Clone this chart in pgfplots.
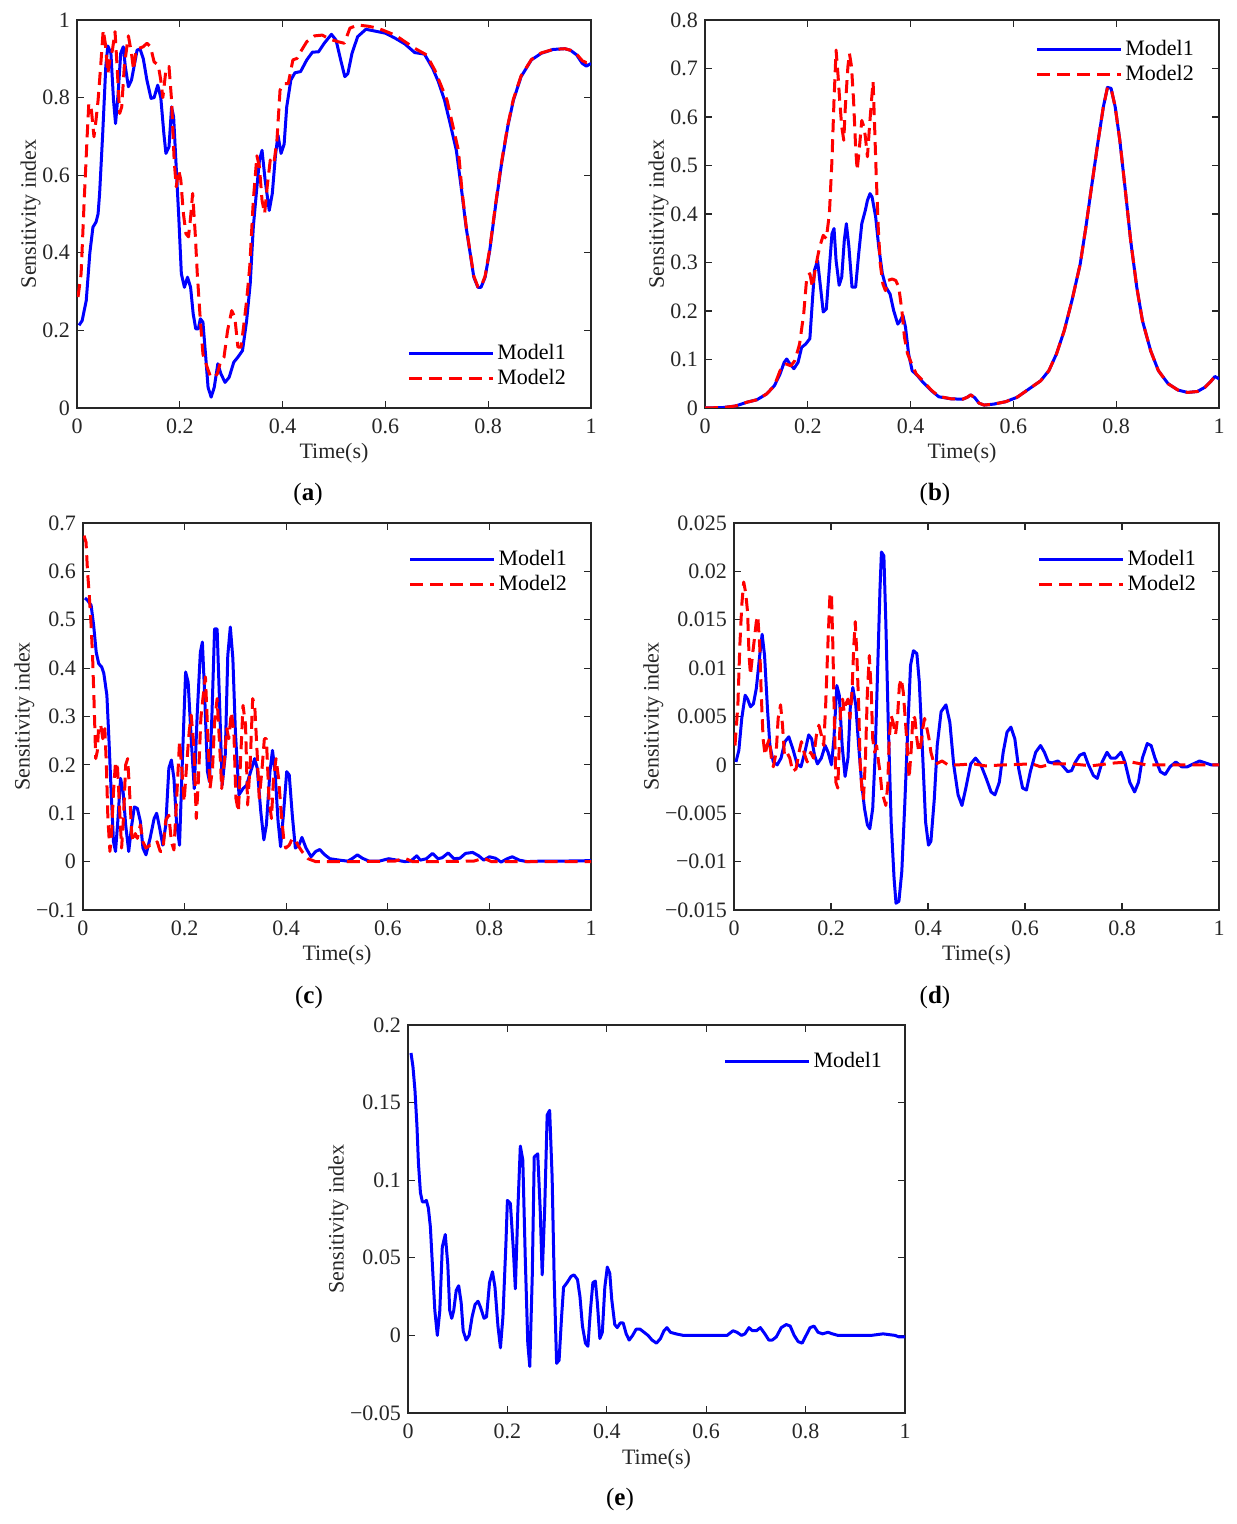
\documentclass[border=0pt]{standalone}
\usepackage{pgfplots}
\pgfplotsset{compat=1.18}
\usepackage{fontspec}
\setmainfont{Liberation Serif}
\definecolor{axgray}{RGB}{38,38,38}
\definecolor{mblue}{RGB}{0,0,255}
\definecolor{mred}{RGB}{255,0,0}
\pgfplotsset{
  sty/.style={
    scale only axis, xmin=0, xmax=1, scaled ticks=false,
    tick align=inside, tick pos=both,
    axis line style={line width=0.7pt, draw=axgray},
    major tick length=3.5pt,
    every tick/.style={axgray, line width=0.6pt},
    tick label style={font=\fontsize{11}{13}\selectfont, text=axgray},
    xticklabel style={yshift=-2pt},
    label style={font=\fontsize{11}{13}\selectfont, text=axgray},
    ylabel style={yshift=-6pt},
    xlabel style={yshift=2pt},
    xlabel={Time(s)}, ylabel={Sensitivity index},
    xtick={0,0.2,0.4,0.6,0.8,1}, xticklabels={0,0.2,0.4,0.6,0.8,1},
    legend cell align=left,
    legend image code/.code={\draw[##1] (0pt,0pt) -- (42pt,0pt);},
    legend style={draw=none, fill=none, anchor=north west,
      font=\fontsize{11}{13}\selectfont, inner sep=0pt, row sep=0pt,
      nodes={inner sep=1.5pt, text height=7.5pt, text depth=2pt}},
  },
  m1/.style={mblue, line width=1.5pt, line join=round},
  m2/.style={mred, line width=1.5pt, line join=round, dash pattern=on 6.5pt off 3.5pt},
}
\begin{document}
\begin{tikzpicture}
\useasboundingbox (0,0) rectangle (618pt,762pt);
% (a)
\begin{axis}[sty, at={(38.5pt,558pt)}, anchor=south west, width=257pt, height=194pt,
  ymin=0, ymax=1, ytick={0,0.2,0.4,0.6,0.8,1}, yticklabels={0,0.2,0.4,0.6,0.8,1},
  legend style={at={(0.642,0.173)}}]
\addplot[m1] coordinates {(0.004,0.213)(0.01,0.225)(0.018,0.277)(0.025,0.40)(0.031,0.466)(0.037,0.479)(0.041,0.50)(0.044,0.553)(0.05,0.707)(0.056,0.88)(0.06,0.933)(0.066,0.914)(0.071,0.794)(0.075,0.733)(0.08,0.81)(0.085,0.914)(0.09,0.931)(0.094,0.88)(0.1,0.828)(0.106,0.845)(0.111,0.88)(0.117,0.923)(0.123,0.924)(0.129,0.90)(0.136,0.845)(0.144,0.798)(0.15,0.80)(0.157,0.832)(0.163,0.80)(0.169,0.707)(0.173,0.656)(0.179,0.673)(0.184,0.776)(0.188,0.75)(0.193,0.621)(0.198,0.492)(0.203,0.346)(0.209,0.311)(0.215,0.337)(0.221,0.311)(0.226,0.243)(0.231,0.204)(0.236,0.204)(0.24,0.23)(0.245,0.221)(0.25,0.139)(0.255,0.053)(0.261,0.028)(0.267,0.053)(0.274,0.114)(0.28,0.088)(0.288,0.066)(0.296,0.079)(0.305,0.118)(0.313,0.131)(0.322,0.148)(0.33,0.225)(0.337,0.32)(0.343,0.466)(0.35,0.57)(0.355,0.639)(0.36,0.664)(0.366,0.587)(0.374,0.509)(0.38,0.553)(0.386,0.65)(0.391,0.703)(0.397,0.656)(0.403,0.68)(0.408,0.776)(0.416,0.845)(0.424,0.864)(0.435,0.867)(0.447,0.897)(0.458,0.917)(0.47,0.918)(0.481,0.94)(0.495,0.963)(0.504,0.948)(0.513,0.897)(0.521,0.854)(0.527,0.862)(0.535,0.914)(0.546,0.957)(0.562,0.976)(0.581,0.971)(0.6,0.966)(0.619,0.953)(0.638,0.938)(0.657,0.916)(0.676,0.912)(0.692,0.875)(0.703,0.841)(0.715,0.793)(0.726,0.733)(0.738,0.664)(0.749,0.553)(0.757,0.466)(0.765,0.398)(0.772,0.337)(0.78,0.311)(0.786,0.311)(0.794,0.337)(0.803,0.406)(0.814,0.518)(0.826,0.63)(0.838,0.725)(0.849,0.793)(0.864,0.854)(0.884,0.897)(0.903,0.914)(0.926,0.924)(0.949,0.926)(0.96,0.922)(0.972,0.91)(0.983,0.888)(0.991,0.881)(1.0,0.888)};
\addlegendentry{Model1}
\addplot[m2] coordinates {(0.002,0.286)(0.008,0.346)(0.014,0.535)(0.02,0.707)(0.023,0.785)(0.028,0.768)(0.033,0.699)(0.037,0.742)(0.041,0.793)(0.046,0.88)(0.051,0.974)(0.055,0.94)(0.06,0.862)(0.064,0.897)(0.069,0.923)(0.074,0.97)(0.078,0.88)(0.083,0.759)(0.087,0.776)(0.092,0.88)(0.097,0.931)(0.1,0.959)(0.106,0.914)(0.11,0.871)(0.115,0.923)(0.121,0.927)(0.129,0.931)(0.136,0.94)(0.143,0.931)(0.15,0.892)(0.158,0.884)(0.163,0.845)(0.167,0.80)(0.173,0.871)(0.179,0.88)(0.184,0.793)(0.189,0.639)(0.193,0.57)(0.198,0.613)(0.202,0.587)(0.207,0.501)(0.212,0.449)(0.217,0.441)(0.221,0.492)(0.225,0.553)(0.23,0.449)(0.234,0.346)(0.24,0.225)(0.245,0.139)(0.251,0.114)(0.259,0.083)(0.267,0.079)(0.273,0.088)(0.279,0.118)(0.286,0.131)(0.293,0.20)(0.301,0.251)(0.307,0.234)(0.313,0.157)(0.319,0.157)(0.324,0.208)(0.33,0.277)(0.336,0.363)(0.343,0.535)(0.35,0.65)(0.355,0.621)(0.36,0.535)(0.365,0.501)(0.37,0.57)(0.376,0.639)(0.383,0.63)(0.389,0.69)(0.395,0.819)(0.402,0.836)(0.411,0.836)(0.42,0.897)(0.428,0.901)(0.435,0.918)(0.447,0.944)(0.462,0.959)(0.477,0.961)(0.493,0.95)(0.508,0.944)(0.52,0.94)(0.531,0.979)(0.546,0.987)(0.566,0.984)(0.585,0.979)(0.619,0.961)(0.657,0.927)(0.68,0.91)(0.696,0.871)(0.72,0.793)(0.742,0.664)(0.749,0.56)(0.757,0.47)(0.765,0.40)(0.772,0.34)(0.78,0.312)(0.786,0.312)(0.794,0.34)(0.803,0.41)(0.814,0.522)(0.826,0.634)(0.838,0.728)(0.849,0.796)(0.864,0.856)(0.884,0.898)(0.903,0.915)(0.926,0.924)(0.949,0.926)(0.96,0.922)(0.972,0.912)(0.983,0.895)(0.991,0.89)(1.0,0.898)};
\addlegendentry{Model2}
\end{axis}
% (b)
\begin{axis}[sty, at={(352.5pt,558pt)}, anchor=south west, width=257pt, height=194pt,
  ymin=0, ymax=0.8, ytick={0,0.1,0.2,0.3,0.4,0.5,0.6,0.7,0.8}, yticklabels={0,0.1,0.2,0.3,0.4,0.5,0.6,0.7,0.8},
  legend style={at={(0.642,0.956)}}]
\addplot[m1] coordinates {(0,0)(0.036,0.001)(0.059,0.004)(0.082,0.012)(0.101,0.017)(0.12,0.029)(0.135,0.046)(0.146,0.07)(0.154,0.094)(0.159,0.101)(0.165,0.091)(0.173,0.081)(0.181,0.094)(0.188,0.125)(0.196,0.132)(0.204,0.143)(0.209,0.222)(0.213,0.284)(0.219,0.304)(0.224,0.256)(0.23,0.198)(0.236,0.204)(0.242,0.29)(0.247,0.359)(0.251,0.37)(0.255,0.304)(0.261,0.253)(0.266,0.27)(0.271,0.346)(0.275,0.38)(0.28,0.332)(0.286,0.249)(0.293,0.249)(0.299,0.318)(0.305,0.38)(0.312,0.408)(0.316,0.428)(0.321,0.442)(0.325,0.435)(0.332,0.394)(0.338,0.332)(0.345,0.277)(0.352,0.249)(0.36,0.235)(0.367,0.201)(0.375,0.173)(0.38,0.18)(0.385,0.191)(0.39,0.167)(0.396,0.112)(0.403,0.077)(0.413,0.067)(0.424,0.053)(0.44,0.036)(0.455,0.023)(0.478,0.019)(0.501,0.018)(0.51,0.022)(0.517,0.027)(0.525,0.021)(0.533,0.01)(0.543,0.006)(0.562,0.008)(0.585,0.013)(0.607,0.022)(0.63,0.039)(0.653,0.056)(0.669,0.077)(0.684,0.112)(0.699,0.16)(0.714,0.222)(0.73,0.297)(0.741,0.373)(0.752,0.456)(0.764,0.545)(0.775,0.621)(0.783,0.661)(0.79,0.659)(0.798,0.621)(0.807,0.552)(0.817,0.456)(0.828,0.346)(0.84,0.249)(0.851,0.18)(0.867,0.118)(0.882,0.077)(0.901,0.05)(0.92,0.037)(0.939,0.032)(0.958,0.034)(0.973,0.043)(0.985,0.056)(0.992,0.065)(1.0,0.06)};
\addlegendentry{Model1}
\addplot[m2] coordinates {(0,0)(0.036,0.001)(0.059,0.004)(0.082,0.012)(0.101,0.017)(0.12,0.029)(0.135,0.046)(0.146,0.077)(0.157,0.091)(0.167,0.087)(0.175,0.098)(0.184,0.132)(0.192,0.194)(0.198,0.27)(0.204,0.277)(0.209,0.249)(0.215,0.29)(0.223,0.332)(0.23,0.356)(0.236,0.349)(0.242,0.401)(0.247,0.511)(0.251,0.635)(0.255,0.738)(0.259,0.683)(0.262,0.635)(0.266,0.58)(0.27,0.552)(0.273,0.621)(0.278,0.704)(0.281,0.731)(0.285,0.704)(0.289,0.635)(0.293,0.538)(0.296,0.49)(0.3,0.532)(0.305,0.593)(0.309,0.58)(0.312,0.559)(0.316,0.518)(0.32,0.58)(0.324,0.635)(0.327,0.673)(0.33,0.58)(0.333,0.483)(0.337,0.373)(0.341,0.297)(0.346,0.256)(0.351,0.242)(0.356,0.263)(0.364,0.266)(0.371,0.263)(0.377,0.249)(0.383,0.201)(0.388,0.146)(0.394,0.112)(0.402,0.091)(0.411,0.07)(0.424,0.056)(0.44,0.037)(0.455,0.024)(0.478,0.019)(0.501,0.018)(0.51,0.022)(0.517,0.027)(0.525,0.021)(0.533,0.01)(0.543,0.006)(0.562,0.008)(0.585,0.013)(0.607,0.022)(0.63,0.039)(0.653,0.056)(0.669,0.077)(0.684,0.112)(0.699,0.16)(0.714,0.222)(0.73,0.297)(0.741,0.373)(0.752,0.456)(0.764,0.545)(0.775,0.621)(0.783,0.661)(0.79,0.659)(0.798,0.621)(0.807,0.552)(0.817,0.456)(0.828,0.346)(0.84,0.249)(0.851,0.18)(0.867,0.118)(0.882,0.077)(0.901,0.05)(0.92,0.037)(0.939,0.032)(0.958,0.034)(0.973,0.043)(0.985,0.056)(0.992,0.065)(1.0,0.06)};
\addlegendentry{Model2}
\end{axis}
% (c)
\begin{axis}[sty, at={(41.5pt,307pt)}, anchor=south west, width=254pt, height=193.5pt,
  ymin=-0.1, ymax=0.7, ytick={-0.1,0,0.1,0.2,0.3,0.4,0.5,0.6,0.7}, yticklabels={−0.1,0,0.1,0.2,0.3,0.4,0.5,0.6,0.7},
  legend style={at={(0.64,0.938)}}]
\addplot[m1] coordinates {(0.004,0.545)(0.009,0.54)(0.016,0.53)(0.021,0.488)(0.026,0.433)(0.031,0.409)(0.037,0.402)(0.041,0.389)(0.047,0.344)(0.051,0.254)(0.056,0.131)(0.06,0.041)(0.064,0.021)(0.068,0.076)(0.074,0.172)(0.079,0.144)(0.084,0.076)(0.09,0.021)(0.096,0.076)(0.101,0.113)(0.107,0.11)(0.113,0.083)(0.118,0.028)(0.124,0.014)(0.132,0.048)(0.14,0.089)(0.145,0.1)(0.151,0.069)(0.157,0.034)(0.163,0.076)(0.169,0.193)(0.174,0.21)(0.179,0.172)(0.184,0.083)(0.19,0.034)(0.196,0.22)(0.202,0.392)(0.207,0.371)(0.213,0.254)(0.219,0.151)(0.225,0.309)(0.231,0.433)(0.235,0.454)(0.239,0.358)(0.245,0.186)(0.249,0.165)(0.254,0.309)(0.259,0.481)(0.264,0.481)(0.269,0.323)(0.274,0.158)(0.28,0.22)(0.285,0.426)(0.29,0.485)(0.295,0.42)(0.3,0.268)(0.307,0.138)(0.315,0.151)(0.322,0.158)(0.33,0.186)(0.338,0.213)(0.343,0.193)(0.35,0.103)(0.356,0.045)(0.361,0.076)(0.368,0.186)(0.373,0.23)(0.378,0.186)(0.384,0.083)(0.389,0.031)(0.395,0.103)(0.401,0.186)(0.406,0.179)(0.412,0.096)(0.418,0.028)(0.425,0.034)(0.431,0.05)(0.439,0.028)(0.449,0.01)(0.458,0.021)(0.466,0.025)(0.476,0.014)(0.486,0.006)(0.505,0.003)(0.521,0.001)(0.531,0.007)(0.54,0.014)(0.55,0.007)(0.563,0.001)(0.583,0.001)(0.602,0.006)(0.618,0.003)(0.633,0.0)(0.645,0.001)(0.657,0.012)(0.664,0.003)(0.676,0.006)(0.688,0.017)(0.699,0.006)(0.707,0.008)(0.719,0.018)(0.73,0.006)(0.742,0.007)(0.753,0.017)(0.767,0.019)(0.779,0.012)(0.789,0.003)(0.8,0.01)(0.812,0.007)(0.823,-0.001)(0.835,0.006)(0.845,0.01)(0.859,0.003)(0.874,0.0)(0.901,0.001)(0.94,0.001)(1.0,0.002)};
\addlegendentry{Model1}
\addplot[m2] coordinates {(0.002,0.674)(0.006,0.66)(0.009,0.598)(0.012,0.557)(0.016,0.488)(0.019,0.42)(0.022,0.323)(0.025,0.213)(0.028,0.227)(0.031,0.282)(0.035,0.282)(0.039,0.254)(0.043,0.275)(0.046,0.2)(0.049,0.089)(0.053,0.021)(0.056,0.055)(0.06,0.144)(0.064,0.206)(0.068,0.193)(0.072,0.11)(0.076,0.028)(0.08,0.096)(0.084,0.2)(0.088,0.213)(0.092,0.138)(0.096,0.055)(0.099,0.041)(0.103,0.058)(0.107,0.048)(0.113,0.076)(0.118,0.041)(0.124,0.028)(0.132,0.034)(0.14,0.034)(0.146,0.041)(0.152,0.021)(0.157,0.021)(0.163,0.086)(0.169,0.096)(0.174,0.041)(0.179,0.024)(0.185,0.144)(0.19,0.248)(0.194,0.2)(0.199,0.124)(0.204,0.2)(0.209,0.268)(0.213,0.303)(0.218,0.241)(0.223,0.089)(0.227,0.165)(0.232,0.296)(0.236,0.337)(0.241,0.382)(0.246,0.254)(0.25,0.151)(0.255,0.193)(0.259,0.289)(0.264,0.337)(0.269,0.241)(0.273,0.151)(0.278,0.206)(0.283,0.275)(0.287,0.254)(0.292,0.309)(0.297,0.268)(0.301,0.131)(0.306,0.103)(0.31,0.206)(0.315,0.323)(0.32,0.282)(0.324,0.117)(0.329,0.2)(0.334,0.337)(0.338,0.323)(0.343,0.22)(0.347,0.131)(0.352,0.186)(0.357,0.254)(0.361,0.254)(0.366,0.131)(0.371,0.089)(0.375,0.172)(0.38,0.213)(0.385,0.172)(0.39,0.103)(0.395,0.048)(0.399,0.028)(0.406,0.034)(0.412,0.048)(0.418,0.045)(0.423,0.034)(0.431,0.021)(0.443,0.006)(0.458,0.0)(0.536,0)(0.614,0.001)(0.633,0.007)(0.649,0.0)(0.691,0)(0.769,0.001)(0.789,0.007)(0.804,0)(1,0)};
\addlegendentry{Model2}
\end{axis}
% (d)
\begin{axis}[sty, at={(367pt,307pt)}, anchor=south west, width=242.5pt, height=193.5pt,
  ymin=-0.015, ymax=0.025, ytick={-0.015,-0.01,-0.005,0,0.005,0.01,0.015,0.02,0.025},
  yticklabels={−0.015,−0.01,−0.005,0,0.005,0.01,0.015,0.02,0.025},
  legend style={at={(0.625,0.938)}}]
\addplot[m1] coordinates {(0.004,0.0003)(0.01,0.0015)(0.016,0.0048)(0.023,0.0072)(0.028,0.0068)(0.034,0.006)(0.04,0.0063)(0.046,0.0079)(0.053,0.0113)(0.058,0.0135)(0.063,0.0113)(0.069,0.0058)(0.074,0.002)(0.081,0.0003)(0.089,0.0)(0.097,0.0007)(0.105,0.0024)(0.113,0.0029)(0.121,0.0017)(0.13,0.0001)(0.138,-0.0002)(0.146,0.0013)(0.154,0.0031)(0.16,0.0027)(0.166,0.001)(0.172,0.0001)(0.18,0.0007)(0.188,0.002)(0.194,0.0013)(0.201,0.0)(0.206,0.0027)(0.212,0.0082)(0.217,0.0072)(0.223,0.002)(0.229,-0.0012)(0.235,0.0007)(0.24,0.0062)(0.245,0.008)(0.251,0.0062)(0.257,0.002)(0.263,-0.0018)(0.269,-0.0045)(0.275,-0.0062)(0.28,-0.0066)(0.286,-0.0045)(0.291,0.001)(0.296,0.0096)(0.301,0.0182)(0.304,0.022)(0.309,0.0216)(0.313,0.0148)(0.318,0.0044)(0.324,-0.0059)(0.33,-0.0117)(0.334,-0.0143)(0.34,-0.0141)(0.346,-0.011)(0.352,-0.0042)(0.358,0.0034)(0.364,0.0103)(0.37,0.0118)(0.377,0.0115)(0.382,0.0086)(0.389,0.001)(0.395,-0.0059)(0.401,-0.0083)(0.406,-0.0079)(0.413,-0.0035)(0.419,0.002)(0.427,0.0055)(0.437,0.0062)(0.445,0.0044)(0.453,0.0)(0.462,-0.0031)(0.47,-0.0042)(0.478,-0.0024)(0.488,0.0001)(0.498,0.0007)(0.509,0.0)(0.52,-0.0014)(0.53,-0.0028)(0.538,-0.0031)(0.547,-0.0018)(0.555,0.0013)(0.563,0.0034)(0.571,0.0039)(0.579,0.0027)(0.587,-0.0004)(0.595,-0.0024)(0.603,-0.0026)(0.611,-0.0007)(0.622,0.0013)(0.632,0.002)(0.64,0.0013)(0.648,0.0003)(0.656,0.0002)(0.668,0.0004)(0.676,0.0)(0.688,-0.0007)(0.696,-0.0006)(0.704,0.0003)(0.713,0.001)(0.722,0.0012)(0.73,0.0001)(0.741,-0.0011)(0.749,-0.0014)(0.759,0.0003)(0.769,0.0013)(0.777,0.0007)(0.787,0.0007)(0.798,0.0013)(0.806,0.0003)(0.816,-0.0018)(0.826,-0.0028)(0.834,-0.0018)(0.842,0.0007)(0.852,0.0022)(0.86,0.002)(0.868,0.0007)(0.879,-0.0007)(0.889,-0.001)(0.899,-0.0002)(0.911,0.0003)(0.923,-0.0002)(0.935,-0.0002)(0.947,0.0001)(0.96,0.0004)(0.972,0.0002)(0.984,0.0)(1.0,0.0)};
\addlegendentry{Model1}
\addplot[m2] coordinates {(0.002,0.002)(0.008,0.0062)(0.012,0.0123)(0.016,0.0165)(0.02,0.0189)(0.024,0.0178)(0.028,0.0158)(0.031,0.0113)(0.034,0.0093)(0.038,0.0113)(0.042,0.013)(0.046,0.0148)(0.049,0.0154)(0.053,0.0123)(0.056,0.0075)(0.06,0.0027)(0.064,0.001)(0.068,0.002)(0.073,0.0027)(0.077,0.0007)(0.081,-0.0002)(0.087,0.0013)(0.091,0.0048)(0.096,0.0062)(0.1,0.0041)(0.104,0.001)(0.109,0.0013)(0.115,0.0007)(0.121,-0.0007)(0.128,-0.0004)(0.134,0.0013)(0.139,0.0024)(0.146,0.001)(0.151,0.0003)(0.158,0.0013)(0.164,0.0007)(0.17,0.0031)(0.175,0.0041)(0.18,0.0031)(0.185,0.002)(0.189,0.0062)(0.194,0.013)(0.198,0.0178)(0.201,0.0175)(0.204,0.012)(0.207,0.0044)(0.21,-0.0018)(0.214,-0.0024)(0.217,0.002)(0.22,0.0062)(0.224,0.0068)(0.227,0.0055)(0.23,0.0062)(0.235,0.0068)(0.239,0.0048)(0.243,0.0072)(0.247,0.0123)(0.25,0.0148)(0.253,0.0117)(0.257,0.0062)(0.26,0.0003)(0.264,-0.0028)(0.267,-0.0035)(0.271,0.0007)(0.275,0.0075)(0.279,0.0113)(0.283,0.0075)(0.286,0.0027)(0.29,0.0013)(0.294,0.002)(0.298,0.0003)(0.301,-0.0007)(0.305,-0.0028)(0.309,-0.0035)(0.313,-0.0042)(0.317,-0.0021)(0.32,0.0027)(0.324,0.0051)(0.328,0.0044)(0.333,0.0031)(0.337,0.0048)(0.341,0.0082)(0.345,0.0089)(0.349,0.0075)(0.353,0.0048)(0.357,0.002)(0.361,-0.0014)(0.365,0.0013)(0.369,0.0051)(0.373,0.0048)(0.377,0.0027)(0.381,0.0013)(0.385,0.002)(0.389,0.0037)(0.393,0.0048)(0.398,0.0037)(0.402,0.0027)(0.406,0.0013)(0.413,0.0)(0.421,0.0002)(0.429,0.0004)(0.441,0.0)(0.462,0.0)(0.494,0.0001)(0.518,-0.0001)(0.559,0.0)(0.615,0.0001)(0.632,-0.0002)(0.656,0.0001)(0.696,0.0001)(0.737,-0.0001)(0.785,0.0002)(0.818,0.0003)(0.85,0.0)(0.899,0.0)(1.0,0.0)};
\addlegendentry{Model2}
\end{axis}
% (e)
\begin{axis}[sty, at={(204pt,55.5pt)}, anchor=south west, width=248.5pt, height=194pt,
  ymin=-0.05, ymax=0.2, ytick={-0.05,0,0.05,0.1,0.15,0.2}, yticklabels={−0.05,0,0.05,0.1,0.15,0.2},
  legend style={at={(0.634,0.938)}}]
\addplot[m1] coordinates {(0.006,0.182)(0.01,0.173)(0.014,0.158)(0.018,0.135)(0.021,0.111)(0.025,0.092)(0.029,0.086)(0.033,0.086)(0.037,0.087)(0.041,0.082)(0.045,0.07)(0.049,0.046)(0.054,0.016)(0.059,0.0)(0.064,0.016)(0.069,0.057)(0.075,0.065)(0.08,0.046)(0.084,0.016)(0.088,0.011)(0.092,0.016)(0.097,0.029)(0.102,0.032)(0.107,0.021)(0.111,0.003)(0.117,-0.003)(0.123,0.0)(0.129,0.012)(0.135,0.02)(0.141,0.022)(0.146,0.018)(0.153,0.011)(0.158,0.012)(0.164,0.034)(0.17,0.041)(0.175,0.031)(0.181,0.006)(0.186,-0.008)(0.191,0.012)(0.197,0.059)(0.2,0.087)(0.206,0.085)(0.212,0.055)(0.216,0.03)(0.221,0.081)(0.226,0.122)(0.231,0.113)(0.236,0.049)(0.241,-0.005)(0.245,-0.02)(0.25,0.038)(0.254,0.115)(0.261,0.117)(0.266,0.081)(0.27,0.039)(0.275,0.081)(0.28,0.142)(0.285,0.145)(0.29,0.102)(0.294,0.038)(0.299,-0.018)(0.304,-0.016)(0.309,0.012)(0.313,0.031)(0.32,0.034)(0.328,0.038)(0.334,0.039)(0.341,0.036)(0.346,0.025)(0.351,0.006)(0.357,-0.005)(0.362,-0.007)(0.367,0.016)(0.372,0.034)(0.377,0.035)(0.381,0.021)(0.386,-0.002)(0.391,0.002)(0.396,0.031)(0.401,0.044)(0.406,0.04)(0.41,0.023)(0.416,0.007)(0.421,0.005)(0.427,0.008)(0.433,0.008)(0.439,0.001)(0.445,-0.003)(0.452,0.0)(0.459,0.004)(0.467,0.004)(0.475,0.002)(0.483,0.0)(0.491,-0.003)(0.5,-0.005)(0.508,-0.002)(0.515,0.003)(0.521,0.005)(0.528,0.002)(0.539,0.001)(0.554,0.0)(0.574,0.0)(0.598,0.0)(0.614,0.0)(0.63,0.0)(0.642,0.0)(0.654,0.003)(0.662,0.002)(0.671,0.0)(0.678,0.001)(0.686,0.005)(0.693,0.003)(0.701,0.003)(0.709,0.005)(0.718,0.001)(0.726,-0.003)(0.733,-0.003)(0.741,-0.001)(0.751,0.005)(0.761,0.007)(0.769,0.006)(0.777,0.0)(0.785,-0.004)(0.793,-0.005)(0.801,0.0)(0.809,0.005)(0.817,0.006)(0.825,0.002)(0.834,0.001)(0.845,0.002)(0.854,0.001)(0.865,0.0)(0.901,0.0)(0.932,0.0)(0.956,0.001)(0.98,0.0)(0.988,-0.001)(1.0,-0.001)};
\addlegendentry{Model1}
\end{axis}
\begin{scope}[font=\fontsize{12.5}{14}\selectfont]
\node at (154pt,514.5pt) {(\textbf{a})};
\node at (467.5pt,514.5pt) {(\textbf{b})};
\node at (154.5pt,263.5pt) {(\textbf{c})};
\node at (467.5pt,263.5pt) {(\textbf{d})};
\node at (310pt,12.5pt) {(\textbf{e})};
\end{scope}
\end{tikzpicture}
\end{document}
